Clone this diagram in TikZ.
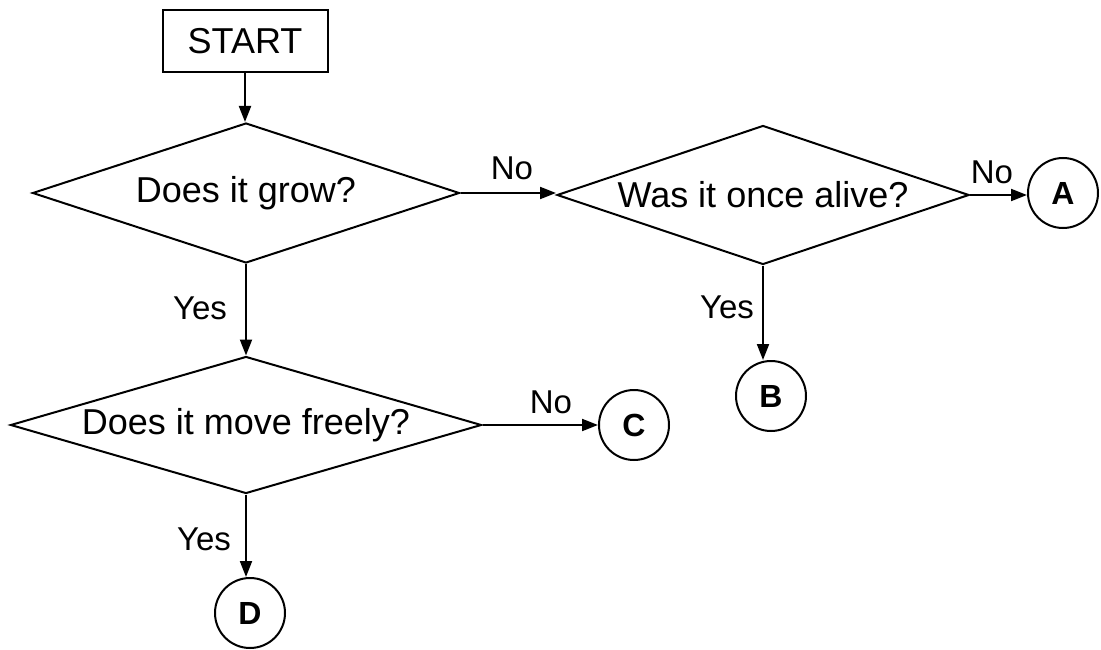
\documentclass[tikz,border=0pt]{standalone}
\usepackage{fontspec}
\setmainfont{Liberation Sans}
\usetikzlibrary{shapes.geometric,arrows.meta}
\begin{document}
\begin{tikzpicture}[x=1pt,y=-1pt,
 line width=2pt,
 decision/.style={diamond, draw, inner sep=0pt, font=\fontsize{36}{40}\selectfont},
 term/.style={circle, draw, inner sep=0pt, minimum size=70pt, font=\bfseries\fontsize{32}{36}\selectfont},
 startbox/.style={rectangle, draw, inner sep=0pt, minimum width=165pt, minimum height=62pt, font=\fontsize{36}{40}\selectfont},
 lbl/.style={font=\fontsize{33}{38}\selectfont, inner sep=0pt},
 flow/.style={-{Triangle[length=16pt,width=12pt]}}]
\useasboundingbox (0,0) rectangle (1101,650);
\node[startbox] (start) at (245,41) {START};
\node[decision, minimum width=427pt, minimum height=140pt, aspect=3.05] (d1) at (246,193) {Does it grow?};
\node[decision, minimum width=412pt, minimum height=139pt, aspect=2.96] (d2) at (763,195) {Was it once alive?};
\node[decision, minimum width=471pt, minimum height=137pt, aspect=3.44] (d3) at (246,425) {Does it move freely?};
\node[term] (a) at (1063,193) {A};
\node[term] (b) at (771,396) {B};
\node[term] (c) at (634,425) {C};
\node[term] (dd) at (250,613) {D};
\draw[flow] (start.south) -- (start.south |- d1.north);
\draw[flow] (d1.east) -- (d1.east -| d2.west);
\draw[flow] (d2.east) -- (d2.east -| a.west);
\draw[flow] (d2.south) -- (d2.south |- b.north);
\draw[flow] (d1.south) -- (d3.north);
\draw[flow] (d3.east) -- (c.west);
\draw[flow] (d3.south) -- (d3.south |- dd.north);
\node[lbl] (l1) at (512,168) {No};
\node[lbl] (l2) at (992,172) {No};
\node[lbl] (l3) at (200,308) {Yes};
\node[lbl] (l4) at (727,307) {Yes};
\node[lbl] (l5) at (551,402) {No};
\node[lbl] (l6) at (204,539) {Yes};
\end{tikzpicture}
\end{document}
